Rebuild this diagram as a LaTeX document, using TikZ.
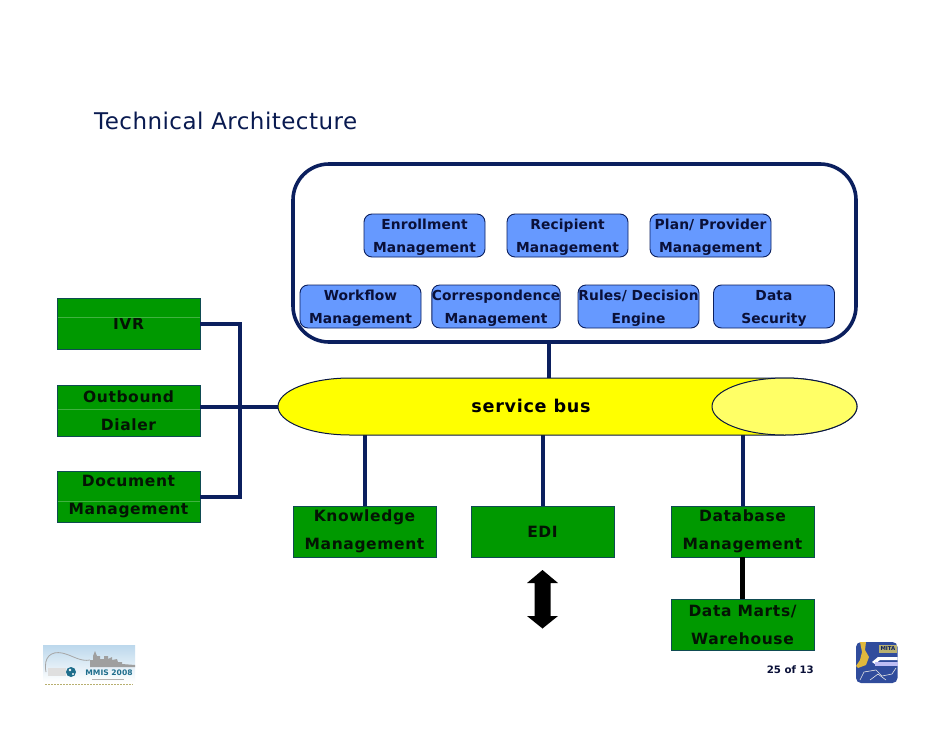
\documentclass[tikz,border=0pt]{standalone}
\usepackage{fontspec}
\setmainfont{DejaVu Sans}
\newfontfamily\grfont{DejaVu Sans}[LetterSpace=4]
\newfontfamily\blfont{DejaVu Sans}[LetterSpace=1]
\newfontfamily\bsfont{DejaVu Sans}[LetterSpace=4]
\newfontfamily\ttfont{DejaVu Sans}[LetterSpace=2]
\usetikzlibrary{shapes.geometric}
\definecolor{navy}{HTML}{0B1F5E}
\definecolor{boxgreen}{HTML}{009900}
\definecolor{boxblue}{HTML}{6699FF}
\definecolor{darktext}{HTML}{0A1038}
\definecolor{greentext}{HTML}{041404}
\definecolor{greenedge}{HTML}{0F4B52}
\definecolor{busyellow}{HTML}{FFFF00}
\definecolor{capyellow}{HTML}{FFFF66}
\definecolor{logosky}{HTML}{BCD8EC}
\definecolor{logoblue}{HTML}{304C9C}
\definecolor{logogold}{HTML}{E0B83C}
\definecolor{logotan}{HTML}{B8B070}
\definecolor{logoteal}{HTML}{1F6E8C}
\newcommand{\svcrule}{\rule{0pt}{14pt}}
\tikzset{
  svc/.style={draw=navy,line width=0.9pt,fill=boxblue,rounded corners=8pt,minimum width=121pt,minimum height=43pt,
    inner sep=0pt,outer sep=0pt,align=center,text=darktext,font=\fontsize{13.8}{23}\selectfont\blfont\bfseries},
  sys/.style={draw=greenedge,line width=0.9pt,fill=boxgreen,minimum width=143pt,minimum height=51pt,
    inner sep=0pt,outer sep=0pt,align=center,text=greentext,font=\fontsize{15.5}{28}\selectfont\grfont\bfseries},
  link/.style={draw=navy,line width=4pt},
  seam/.style={draw=white!25!boxgreen,line width=0.5pt},
}
\begin{document}
\begin{tikzpicture}[x=1pt,y=-1pt]
\useasboundingbox (0,0) rectangle (942,728);
\fill[white] (0,0) rectangle (942,728);

\node[anchor=west,inner sep=0pt,text=navy!85!black,font=\fontsize{23}{26}\selectfont\ttfont] (title) at (94,121) {Technical Architecture};

% container
\node[draw=navy,line width=3.6pt,rounded corners=36pt,minimum width=563pt,minimum height=178pt,inner sep=0pt,outer sep=0pt] (core) at (574.5,253) {};

% nodes
\node[svc] (enr) at (424.5,235.5) {\svcrule Enrollment\\Management};
\node[svc] (rec) at (567.5,235.5) {\svcrule Recipient\\Management};
\node[svc] (pla) at (710.5,235.5) {\svcrule Plan/ Provider\\Management};
\node[svc] (wor) at (360.5,306.5) {\svcrule Workflow\\Management};
\node[svc] (cor) at (496,306.5) {\svcrule Correspondence\\Management};
\node[svc] (rul) at (638.5,306.5) {\svcrule Rules/ Decision\\Engine};
\node[svc] (dat) at (774,306.5) {\svcrule Data\\Security};

\node[sys] (ivr) at (128.5,324) {IVR};
\node[sys] (out) at (128.5,410.5) {Outbound\\Dialer};
\node[sys] (doc) at (128.5,496.5) {Document\\Management};
\node[sys] (kno) at (364.5,531.5) {Knowledge\\Management};
\node[sys] (edi) at (542.5,531.5) {EDI};
\node[sys] (dbm) at (742.5,531.5) {Database\\Management};
\node[sys] (mar) at (742.5,624.5) {Data Marts/\\Warehouse};

% invisible frame of the bus, used for connector ends
\node[minimum width=579pt,minimum height=57pt,inner sep=0pt,outer sep=0pt] (bus) at (567.5,406.5) {};
\coordinate (tap) at (549,343);
\coordinate (junction) at (240,407);

% connectors
\draw[link,line width=3.2pt] (tap) -- (tap |- bus.north);
\draw[link] (ivr.east) -| (junction);
\draw[link] (doc.east) -| (junction);
\draw[link] (out.east |- junction) -- (junction -| bus.west);
\draw[link] (kno.north |- bus.south) -- (kno.north);
\draw[link] (edi.north |- bus.south) -- (edi.north);
\draw[link] (dbm.north |- bus.south) -- (dbm.north);
\draw[black,line width=5pt] (dbm.south) -- (mar.north);

% seams in the left boxes
\draw[seam] (57.5,317.5) -- (199.5,317.5);
\draw[seam] (57.5,409.5) -- (199.5,409.5);
\draw[seam] (57.5,501.5) -- (199.5,501.5);

% service bus
\draw[draw=navy!70!black,line width=1pt,fill=busyellow]
  (350,378) -- (785,378)
  .. controls (825,378) and (857,391) .. (857,406.5)
  .. controls (857,422) and (825,435) .. (785,435)
  -- (350,435)
  .. controls (310,435) and (278,422) .. (278,406.5)
  .. controls (278,391) and (310,378) .. (350,378) -- cycle;
\node[ellipse,draw=navy!70!black,line width=1pt,fill=capyellow,minimum width=145pt,minimum height=57pt,inner sep=0pt,outer sep=0pt] (cap) at (784.5,406.5) {};
\node[text=black,inner sep=0pt,font=\fontsize{17.6}{20}\selectfont\bsfont\bfseries] (buslabel) at (531,405.5) {service bus};

% double arrow
\fill[black] (542.5,570) -- (558,583) -- (550.5,583) -- (550.5,616) -- (558,616) -- (542.5,628.5)
  -- (527,616) -- (534.5,616) -- (534.5,583) -- (527,583) -- cycle;

\node[inner sep=0pt,anchor=east,text=darktext,font=\fontsize{10.2}{12}\selectfont\bfseries] (page) at (814,670) {25 of 13};

% left logo
\shade[top color=logosky,bottom color=white] (43,645) rectangle (135,682);
\draw[gray!70,line width=0.8pt] (46,672) .. controls (43,656) and (52,651) .. (62,653)
  .. controls (72,655) and (80,662) .. (90,660);
\fill[gray!75] (90,667) -- (90,660) -- (93,660) -- (93,656) -- (95,651) -- (97,656) -- (100,656) -- (100,659) -- (104,659) -- (104,656)
  -- (108,656) -- (108,659) -- (112,657) -- (112,660) -- (117,659) -- (118,662) -- (122,662) -- (122,664) -- (135,665) -- (135,667) -- cycle;
\fill[gray!25] (48,668) rectangle (66,676);
\fill[logoteal] (71,672) circle (5pt);
\fill[white] (70,670) circle (1.3pt) (73,674) circle (1.1pt);
\node[inner sep=0pt,text=logoteal,font=\fontsize{7.6}{9}\selectfont\bfseries] (mmis) at (109,673) {MMIS 2008};
\draw[gray!60,line width=0.8pt] (92,679) -- (124,679);
\draw[logotan,line width=1pt,dash pattern=on 2pt off 1pt] (45,684) -- (133,684);

% right logo
\fill[logoblue,rounded corners=5pt] (856,642) rectangle (897.5,683);
\fill[logogold] (860,642) -- (866,642) -- (865,650) -- (869,657) -- (866,665) -- (858,668) -- (856,666) -- (860,660) -- (862,652) -- cycle;
\fill[white] (872,662) -- (878,657) -- (897.5,657) -- (897.5,660) -- (880,660) -- (875,664) -- cycle;
\fill[gray!30!blue!30!white] (875,662) rectangle (897.5,666);
\fill[logotan] (879,645) rectangle (897,653);
\node[inner sep=0pt,text=navy,font=\fontsize{5.4}{7}\selectfont\bfseries] (mita) at (888,649) {MITA};
\draw[white!80!gray,line width=0.6pt] (860,680) -- (864,672) -- (876,670) -- (882,676) -- (892,674) -- (896,668);
\draw[white!80!gray,line width=0.6pt] (870,680) -- (878,674) -- (886,680);
\end{tikzpicture}
\end{document}
